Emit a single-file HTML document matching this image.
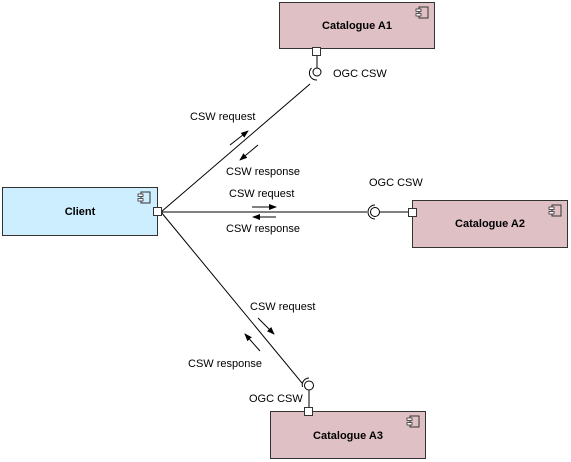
<!DOCTYPE html>
<html><head><style>
body{margin:0;background:#fff;}
svg{display:block;font-family:"Liberation Sans",Arial,sans-serif;}
</style></head><body>
<svg width="571" height="462" viewBox="0 0 571 462" xmlns="http://www.w3.org/2000/svg">
<defs>
<marker id="ah" markerWidth="8" markerHeight="6" refX="7" refY="3" orient="auto" markerUnits="userSpaceOnUse">
<path d="M0,0 L8,3 L0,6 z" fill="#000"/></marker>
<g id="ico"><rect x="3" y="0" width="9" height="11" fill="none" stroke="#333" stroke-width="1"/><rect x="0" y="2" width="5" height="2.5" fill="#fff" stroke="#333" stroke-width="0.8"/><rect x="0" y="6.5" width="5" height="2.5" fill="#fff" stroke="#333" stroke-width="0.8"/></g>
</defs>
<!-- boxes -->
<rect x="2.5" y="187.5" width="155" height="48" fill="#cceeff" stroke="#333"/>
<text x="80" y="215" font-size="11" font-weight="bold" text-anchor="middle">Client</text>
<use href="#ico" x="138" y="192"/>
<rect x="279.5" y="2.5" width="155" height="46" fill="#dfc0c5" stroke="#333"/>
<text x="357" y="29" font-size="11" font-weight="bold" text-anchor="middle">Catalogue A1</text>
<use href="#ico" x="416" y="7"/>
<rect x="412.5" y="200.5" width="155" height="47" fill="#dfc0c5" stroke="#333"/>
<text x="490" y="227" font-size="11" font-weight="bold" text-anchor="middle">Catalogue A2</text>
<use href="#ico" x="549" y="205"/>
<rect x="270.5" y="411.5" width="155" height="47" fill="#dfc0c5" stroke="#333"/>
<text x="348" y="439" font-size="11" font-weight="bold" text-anchor="middle">Catalogue A3</text>
<use href="#ico" x="407" y="416"/>
<!-- connectors -->
<g stroke="#000" stroke-width="1" fill="none">
<line x1="161" y1="212" x2="310" y2="84"/>
<line x1="161" y1="212" x2="367" y2="212"/>
<line x1="161" y1="212" x2="302" y2="383"/>
<line x1="317" y1="56" x2="317" y2="68"/>
<line x1="380" y1="212" x2="408" y2="212"/>
<line x1="309" y1="390" x2="309" y2="407"/>
<circle cx="317" cy="72" r="4"/>
<path d="M311.5,68 A7,7 0 0 0 317,80"/>
<circle cx="375" cy="212" r="4.5"/>
<path d="M375,205 A7,7 0 0 0 375,219"/>
<circle cx="309" cy="385.5" r="4.5"/>
<path d="M302.5,387 A7,7 0 0 1 309,378"/>
</g>
<!-- ports -->
<g fill="#fff" stroke="#333">
<rect x="153.5" y="207.5" width="8" height="8"/>
<rect x="312.5" y="47.5" width="8" height="8"/>
<rect x="408.5" y="208.5" width="8" height="8"/>
<rect x="304.5" y="407.5" width="8" height="8"/>
</g>
<!-- arrows -->
<g stroke="#000" stroke-width="1" marker-end="url(#ah)">
<line x1="230" y1="145" x2="248" y2="131"/>
<line x1="258" y1="145" x2="240" y2="160"/>
<line x1="252" y1="207" x2="276" y2="207"/>
<line x1="276" y1="217" x2="253" y2="217"/>
<line x1="258" y1="318" x2="274" y2="334"/>
<line x1="260" y1="351" x2="245" y2="334"/>
</g>
<!-- labels -->
<g font-size="11" fill="#000">
<text x="190" y="120">CSW request</text>
<text x="226" y="175">CSW response</text>
<text x="229" y="197">CSW request</text>
<text x="226" y="232">CSW response</text>
<text x="250" y="310">CSW request</text>
<text x="188" y="367">CSW response</text>
<text x="333" y="77">OGC CSW</text>
<text x="369" y="186">OGC CSW</text>
<text x="249" y="402">OGC CSW</text>
</g>
</svg>
</body></html>
